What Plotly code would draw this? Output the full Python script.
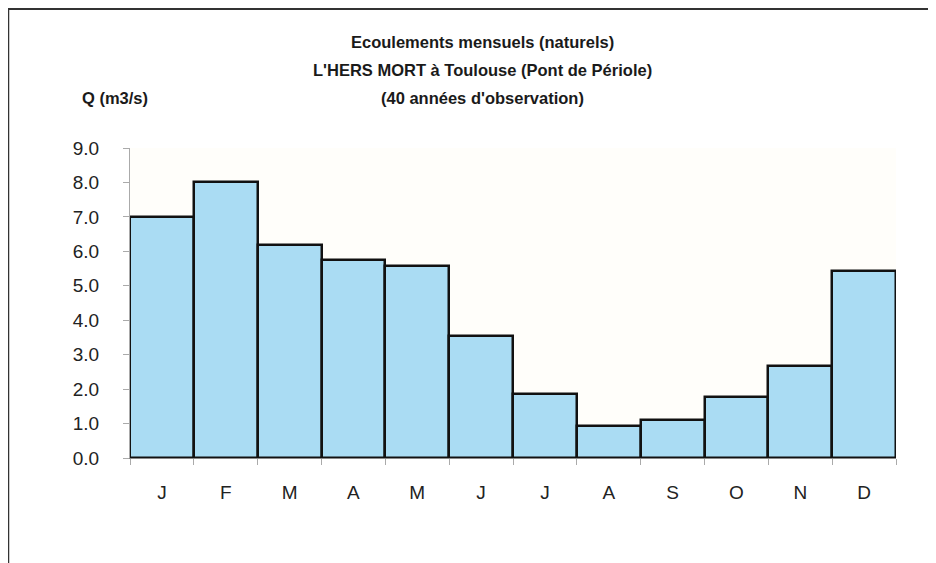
import plotly.graph_objects as go

months = ["J", "F", "M", "A", "M ", "J ", "J  ", "A ", "S", "O", "N", "D"]
month_labels = ["J", "F", "M", "A", "M", "J", "J", "A", "S", "O", "N", "D"]
flow = [7.0, 8.0, 6.17, 5.74, 5.56, 3.55, 1.87, 0.94, 1.11, 1.76, 2.66, 5.42]
title_lines = ["Ecoulements mensuels (naturels)",
               "L'HERS MORT à Toulouse (Pont de Périole)",
               "(40 années d'observation)"]
y_title = "Q (m3/s)"
y_ticks = [0, 1, 2, 3, 4, 5, 6, 7, 8, 9]

OFF = 8  # page body margin
W, H = 936 - OFF, 563 - OFF
L, R, T, B = 130 - OFF, 40, 148 - OFF, 105
pw, ph = W - L - R, H - T - B

def px(x):
    return (x - OFF - L) / pw

def py(y):
    return (H - B - (y - OFF)) / ph

FONT = "Liberation Sans, Arial"

fig = go.Figure(go.Bar(
    x=months, y=flow,
    marker=dict(color="#aadcf3", line=dict(color="#111111", width=2.5)),
    hoverinfo="skip",
))

annotations = []
for t, yy in zip(title_lines, [42, 70, 98]):
    annotations.append(dict(text="<b>" + t + "</b>", x=px(482), y=py(yy), xref="paper", yref="paper",
                            showarrow=False, xanchor="center", yanchor="middle",
                            font=dict(family=FONT, size=16.5, color="#1a1a1a")))
annotations.append(dict(text="<b>" + y_title + "</b>", x=px(115), y=py(98), xref="paper", yref="paper",
                        showarrow=False, xanchor="center", yanchor="middle",
                        font=dict(family=FONT, size=16.5, color="#1a1a1a")))

shapes = [
    dict(type="line", xref="paper", yref="paper", x0=px(8), x1=px(936), y0=py(9), y1=py(9),
         line=dict(color="#333333", width=2)),
    dict(type="line", xref="paper", yref="paper", x0=px(8.5), x1=px(8.5), y0=py(9), y1=py(563),
         line=dict(color="#333333", width=1.5)),
]

fig.update_layout(
    width=W, height=H,
    margin=dict(l=L, r=R, t=T, b=B),
    paper_bgcolor="white",
    plot_bgcolor="#fffefa",
    bargap=0,
    showlegend=False,
    annotations=annotations,
    shapes=shapes,
    font=dict(family=FONT, color="#222222"),
)
fig.update_xaxes(
    type="category",
    tickmode="array", tickvals=months, ticktext=month_labels,
    tickson="boundaries",
    ticks="outside", ticklen=6, tickcolor="#aaaaaa", tickwidth=1,
    showline=True, linecolor="#888888", linewidth=1,
    showgrid=False, zeroline=False,
    tickfont=dict(family=FONT, size=19, color="#222222"),
    ticklabelstandoff=17,
)
fig.update_yaxes(
    range=[0, 9],
    tickmode="array", tickvals=y_ticks, ticktext=[f"{v:.1f}" for v in y_ticks],
    ticks="outside", ticklen=6, tickcolor="#aaaaaa", tickwidth=1,
    showline=True, linecolor="#aaaaaa", linewidth=1,
    showgrid=False, zeroline=False,
    tickfont=dict(family=FONT, size=19, color="#222222"),
    ticklabelstandoff=20,
)

fig.write_html("out.html")
